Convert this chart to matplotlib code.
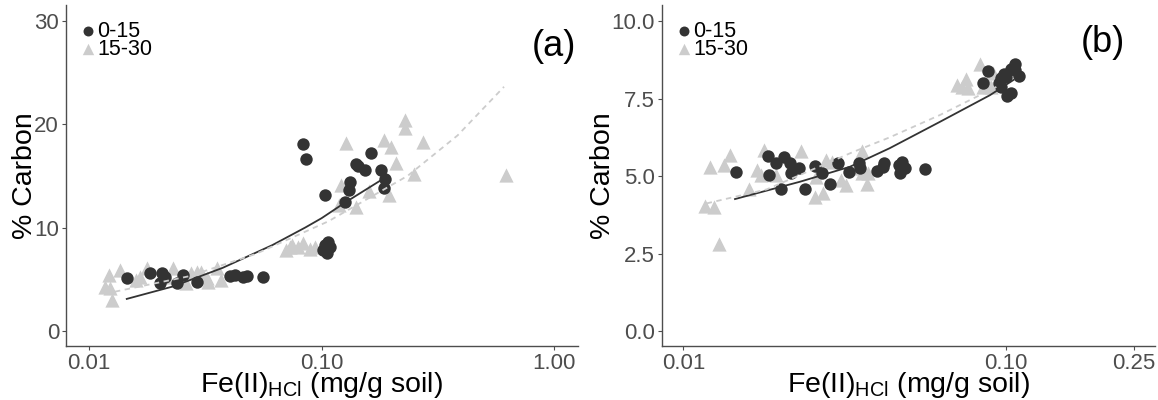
import matplotlib
matplotlib.use('Agg')
import matplotlib.pyplot as plt

plt.rcParams['font.family'] = ['Liberation Sans', 'DejaVu Sans']
plt.rcParams['mathtext.default'] = 'regular'

# panel (a) - 0-15 cm depth
a_top_x = [0.0145, 0.0182, 0.0205, 0.0202, 0.0212, 0.0238, 0.0254, 0.0290, 0.0405, 0.0423,
           0.0460, 0.0477, 0.0561, 0.0833, 0.0858, 0.1030, 0.1010, 0.1030, 0.1070, 0.1090,
           0.1050, 0.1260, 0.1310, 0.1320, 0.1410, 0.1430, 0.1540, 0.1630, 0.1800, 0.1870,
           0.1860]
a_top_y = [5.15, 5.64, 5.60, 4.61, 5.25, 4.65, 5.42, 4.77, 5.32, 5.41,
           5.25, 5.32, 5.25, 18.08, 16.6, 13.15, 7.83, 8.31, 8.64, 8.15,
           7.50, 12.5, 13.6, 14.4, 16.1, 15.9, 15.6, 17.2, 15.6, 14.7,
           13.8]
# panel (a) - 15-30 cm depth
a_sub_x = [0.0117, 0.0121, 0.0123, 0.0125, 0.0136, 0.0159, 0.0165, 0.0177, 0.0217, 0.0230,
           0.0256, 0.0262, 0.0275, 0.0290, 0.0302, 0.0320, 0.0325, 0.0353, 0.0370, 0.0705,
           0.0730, 0.0749, 0.0791, 0.0833, 0.0890, 0.0940, 0.1190, 0.1210, 0.1270, 0.1410,
           0.1600, 0.1850, 0.1960, 0.1990, 0.2090, 0.2280, 0.2280, 0.2500, 0.2720, 0.6200]
a_sub_y = [4.28, 5.42, 4.15, 3.00, 5.90, 4.93, 5.25, 6.06, 5.25, 6.06,
           4.77, 4.61, 5.57, 5.73, 5.74, 5.10, 4.77, 6.06, 4.93, 7.83,
           8.15, 8.30, 8.15, 8.48, 7.90, 8.15, 12.2, 14.1, 18.2, 12.0,
           13.5, 18.5, 13.15, 17.8, 16.2, 20.4, 19.6, 15.2, 18.3, 15.1]
# fitted curves, panel (a)
a_top_fit_x = [0.0145, 0.0229, 0.0375, 0.0614, 0.0851, 0.100, 0.126, 0.181]
a_top_fit_y = [3.1, 4.3, 6.1, 8.3, 10.0, 10.9, 12.4, 14.6]
a_sub_fit_x = [0.0129, 0.0270, 0.0521, 0.107, 0.235, 0.385, 0.610]
a_sub_fit_y = [3.8, 5.3, 7.45, 10.6, 15.0, 18.9, 23.6]

# panel (b) - 0-15 cm depth
b_top_x = [0.01455, 0.01823, 0.0193, 0.0184, 0.0201, 0.0205, 0.0214, 0.0215, 0.0229, 0.0238,
           0.0256, 0.0269, 0.0284, 0.0301, 0.0325, 0.0350, 0.0354, 0.0399, 0.0416, 0.0420,
           0.0465, 0.0470, 0.0476, 0.0486, 0.0562, 0.0877, 0.0850, 0.0954, 0.0967, 0.1000,
           0.0990, 0.1040, 0.1070, 0.1070, 0.1100, 0.1010, 0.1040, 0.0967]
b_top_y = [5.14, 5.65, 5.41, 5.03, 4.60, 5.62, 5.43, 5.09, 5.27, 4.60,
           5.32, 5.09, 4.76, 5.41, 5.14, 5.41, 5.25, 5.17, 5.30, 5.41,
           5.35, 5.10, 5.44, 5.25, 5.23, 8.40, 7.99, 7.99, 8.15, 8.20,
           8.30, 8.47, 8.61, 8.42, 8.23, 7.58, 7.67, 7.88]
# panel (b) - 15-30 cm depth
b_sub_x = [0.01165, 0.0124, 0.0129, 0.0121, 0.0139, 0.0134, 0.0160, 0.0169, 0.0178, 0.0174,
           0.0193, 0.0231, 0.0256, 0.0270, 0.0258, 0.0276, 0.0289, 0.0308, 0.0319, 0.0357,
           0.0341, 0.0357, 0.0372, 0.0373, 0.0705, 0.0752, 0.0733, 0.0764, 0.0830, 0.0869,
           0.0914, 0.0902, 0.0850]
b_sub_y = [4.03, 3.99, 2.81, 5.30, 5.68, 5.35, 4.60, 5.19, 5.84, 5.03,
           5.03, 5.80, 4.33, 4.44, 4.98, 5.52, 5.46, 4.87, 4.71, 5.82,
           5.25, 5.09, 4.76, 5.09, 7.94, 8.12, 7.88, 7.83, 8.61, 8.10,
           8.33, 7.86, 7.86]
# fitted curves, panel (b)
b_top_fit_x = [0.01445, 0.0230, 0.0328, 0.0436, 0.0624, 0.0892, 0.1055]
b_top_fit_y = [4.26, 4.82, 5.30, 5.90, 6.75, 7.61, 8.10]
b_sub_fit_x = [0.0118, 0.0181, 0.0336, 0.0436, 0.0624, 0.0811, 0.0935]
b_sub_fit_y = [4.12, 4.57, 5.78, 6.25, 6.97, 7.56, 7.88]

dark = '#333333'
light = '#CCCCCC'
tick_grey = '#4D4D4D'

fig = plt.figure(figsize=(11.58, 4.0), dpi=100)
ax1 = fig.add_axes([66/1158, 54/400, 512/1158, 341/400])
ax2 = fig.add_axes([662/1158, 54/400, 493/1158, 341/400])

panels = [
    (ax1, a_top_x, a_top_y, a_sub_x, a_sub_y, a_top_fit_x, a_top_fit_y, a_sub_fit_x, a_sub_fit_y,
     '(a)', (0.00794, 1.27), (-1.45, 31.5), [0.01, 0.1, 1.0], ['0.01', '0.10', '1.00'],
     [0, 10, 20, 30], ['0', '10', '20', '30'], (0.953, 0.877), 0.0268),
    (ax2, b_top_x, b_top_y, b_sub_x, b_sub_y, b_top_fit_x, b_top_fit_y, b_sub_fit_x, b_sub_fit_y,
     '(b)', (0.00858, 0.29), (-0.48, 10.52), [0.01, 0.1, 0.25], ['0.01', '0.10', '0.25'],
     [0, 2.5, 5, 7.5, 10], ['0.0', '2.5', '5.0', '7.5', '10.0'], (0.895, 0.889), 0.0278),
]

for (ax, tx, ty, sx, sy, tfx, tfy, sfx, sfy, tag, xl, yl, xt, xtl, yt, ytl, tagpos, legx) in panels:
    ax.scatter(sx, sy, marker='^', s=105, color=light, linewidths=0, label='15-30', zorder=2)
    ax.scatter(tx, ty, marker='o', s=80, color=dark, linewidths=0, label='0-15', zorder=3)
    ax.plot(tfx, tfy, '-', color=dark, lw=1.3, zorder=4)
    ax.plot(sfx, sfy, '--', color=light, lw=1.3, dashes=(3, 2.5), zorder=4)

    ax.set_xscale('log')
    ax.set_xlim(*xl)
    ax.set_ylim(*yl)
    ax.set_xticks(xt)
    ax.set_xticklabels(xtl)
    ax.xaxis.set_minor_locator(matplotlib.ticker.NullLocator())
    ax.set_yticks(yt)
    ax.set_yticklabels(ytl)
    ax.tick_params(labelsize=16, colors=tick_grey, length=3, width=0.8, pad=2)

    for side in ['top', 'right']:
        ax.spines[side].set_visible(False)
    for side in ['left', 'bottom']:
        ax.spines[side].set_color(tick_grey)
        ax.spines[side].set_linewidth(1.0)

    ax.set_ylabel('% Carbon', fontsize=20.5, labelpad=-3)
    ax.set_xlabel('Fe(II)$_{HCl}$ (mg/g soil)', fontsize=20.5, labelpad=-2.5)
    ax.text(tagpos[0], tagpos[1], tag, transform=ax.transAxes, fontsize=26,
            ha='center', va='center')

    h, l = ax.get_legend_handles_labels()
    ax.legend(h[::-1], l[::-1], loc='upper left', bbox_to_anchor=(legx, 0.953), frameon=False,
              fontsize=15.5, markerscale=0.8, handletextpad=0.0, handlelength=0.8,
              labelspacing=-0.16, borderaxespad=0.0, borderpad=0.0)

fig.savefig('out.png', dpi=100)
